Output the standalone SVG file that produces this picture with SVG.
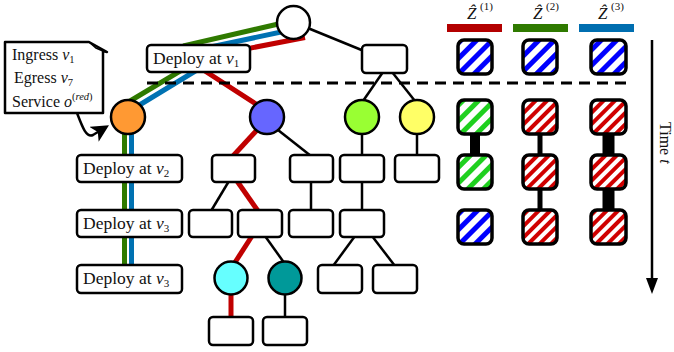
<svg xmlns="http://www.w3.org/2000/svg" width="674" height="352" viewBox="0 0 674 352">
<style>
text { font-family: "Liberation Serif", "DejaVu Serif", serif; fill: #111; }
.nd { fill: #fff; stroke: #000; stroke-width: 2.5; }
.ci { stroke: #000; stroke-width: 2.5; }
.e { stroke: #000; stroke-width: 2.5; fill: none; }
.r { stroke: #c00000; stroke-width: 5; fill: none; }
.g { stroke: #2f7a00; stroke-width: 5; fill: none; }
.b { stroke: #0072b2; stroke-width: 5; fill: none; }
.sq { stroke: #000; stroke-width: 3.5; }
.lbl { font-size: 17.5px; }
.it { font-style: italic; }
</style>
<defs>
<pattern id="hb" width="11" height="11" patternUnits="userSpaceOnUse" patternTransform="rotate(45)"><rect width="11" height="11" fill="#fff"/><rect width="5" height="11" fill="#0000ff"/></pattern>
<pattern id="hg" width="11" height="11" patternUnits="userSpaceOnUse" patternTransform="rotate(45)"><rect width="11" height="11" fill="#fff"/><rect width="5" height="11" fill="#1fd01f"/></pattern>
<pattern id="hr" width="8" height="8" patternUnits="userSpaceOnUse" patternTransform="rotate(45)"><rect width="8" height="8" fill="#fff"/><rect width="4" height="8" fill="#d00000"/></pattern>
<marker id="ah" viewBox="0 0 10 10" refX="8" refY="5" markerWidth="7" markerHeight="7" orient="auto" markerUnits="strokeWidth"><path d="M0,0 L10,5 L0,10 L2.5,5 Z" fill="#000"/></marker>
</defs>

<!-- connectors -->
<g id="connectors">
  <path class="g" d="M300,19 L185,45.5 L182,70 L120,107"/>
  <path class="b" d="M300,28 L192,51 L197,70 L128,112"/>
  <path class="r" d="M305,37.5 L235,51 L205,71 L262,108"/>
  <line class="g" x1="124.5" y1="117" x2="124.5" y2="267"/>
  <line class="b" x1="131.5" y1="117" x2="131.5" y2="267"/>
  <line class="e" x1="293" y1="22" x2="364" y2="51"/>
  <line class="e" x1="383" y1="72" x2="363" y2="101"/>
  <line class="e" x1="392" y1="72" x2="415" y2="101"/>
  <line class="e" x1="362" y1="133" x2="362" y2="156"/>
  <line class="e" x1="417" y1="133" x2="417" y2="156"/>
  <line class="e" x1="362" y1="181" x2="362" y2="211"/>
  <line class="e" x1="355" y1="236" x2="333" y2="266"/>
  <line class="e" x1="372" y1="236" x2="395" y2="266"/>
  <line class="r" x1="257" y1="130" x2="233" y2="156"/>
  <line class="e" x1="278" y1="130" x2="311" y2="156"/>
  <line class="e" x1="229" y1="181" x2="211" y2="211"/>
  <line class="r" x1="237" y1="181" x2="258" y2="211"/>
  <line class="e" x1="311" y1="181" x2="311" y2="211"/>
  <line class="r" x1="252" y1="236" x2="234" y2="264"/>
  <line class="e" x1="265" y1="236" x2="285" y2="264"/>
  <line class="r" x1="231" y1="292" x2="231" y2="318"/>
  <line class="e" x1="285" y1="292" x2="285" y2="318"/>
  <path class="e" d="M77,113 C82,126 86,138 93,135 L106,127" marker-end="url(#ah)"/>
  <line x1="147" y1="83" x2="630" y2="83" stroke="#000" stroke-width="3" stroke-dasharray="11 7"/>
  <!-- Z-hat timelines -->
  <rect x="470" y="133" width="10" height="23" fill="#000"/>
  <rect x="537.5" y="133" width="5" height="23" fill="#000"/>
  <rect x="537.5" y="188" width="5" height="23" fill="#000"/>
  <rect x="602.5" y="133" width="12" height="23" fill="#000"/>
  <rect x="602.5" y="188" width="12" height="23" fill="#000"/>
  <!-- time axis -->
  <line x1="652" y1="40" x2="652" y2="281" stroke="#000" stroke-width="2.5"/>
  <path d="M646,278 L652,294 L658,278 Z" fill="#000"/>
</g>

<!-- tree nodes -->
<g id="root"><circle class="nd" cx="293.5" cy="22.5" r="16.5"/></g>
<g id="deploy-v1"><rect class="nd" x="147" y="45" width="103" height="27" rx="4"/><text class="lbl" x="153" y="64">Deploy at <tspan class="it">v</tspan><tspan font-size="11" dy="3">1</tspan></text></g>
<g id="box-r0"><rect class="nd" x="362" y="45" width="45" height="28" rx="4"/></g>
<g id="orange"><circle class="ci" cx="128" cy="117" r="17" fill="#ff9933"/></g>
<g id="purple"><circle class="ci" cx="267" cy="117" r="17" fill="#6666ff"/></g>
<g id="lime"><circle class="ci" cx="362" cy="117" r="17" fill="#99ff33"/></g>
<g id="yellow"><circle class="ci" cx="417" cy="117" r="17" fill="#ffff66"/></g>
<g id="deploy-v2"><rect class="nd" x="77" y="155" width="105" height="27" rx="4"/><text class="lbl" x="83" y="174">Deploy at <tspan class="it">v</tspan><tspan font-size="11" dy="3">2</tspan></text></g>
<g id="deploy-v3a"><rect class="nd" x="77" y="210" width="105" height="27" rx="4"/><text class="lbl" x="83" y="229">Deploy at <tspan class="it">v</tspan><tspan font-size="11" dy="3">3</tspan></text></g>
<g id="deploy-v3b"><rect class="nd" x="77" y="265" width="105" height="28" rx="4"/><text class="lbl" x="83" y="284">Deploy at <tspan class="it">v</tspan><tspan font-size="11" dy="3">3</tspan></text></g>
<g id="b1"><rect class="nd" x="212" y="155" width="43" height="27" rx="4"/></g>
<g id="b2"><rect class="nd" x="290" y="155" width="43" height="27" rx="4"/></g>
<g id="b3"><rect class="nd" x="340" y="155" width="44" height="27" rx="4"/></g>
<g id="b4"><rect class="nd" x="395" y="155" width="44" height="27" rx="4"/></g>
<g id="b5"><rect class="nd" x="189" y="210" width="43" height="27" rx="4"/></g>
<g id="b6"><rect class="nd" x="238" y="210" width="44" height="27" rx="4"/></g>
<g id="b7"><rect class="nd" x="289" y="210" width="44" height="27" rx="4"/></g>
<g id="b8"><rect class="nd" x="340" y="210" width="44" height="27" rx="4"/></g>
<g id="cyan"><circle class="ci" cx="231" cy="278" r="16.5" fill="#66ffff"/></g>
<g id="teal"><circle class="ci" cx="285" cy="278" r="16.5" fill="#009999"/></g>
<g id="b9"><rect class="nd" x="318" y="265" width="44" height="28" rx="4"/></g>
<g id="b10"><rect class="nd" x="373" y="265" width="44" height="28" rx="4"/></g>
<g id="b11"><rect class="nd" x="209" y="317" width="44" height="28" rx="4"/></g>
<g id="b12"><rect class="nd" x="263" y="317" width="44" height="28" rx="4"/></g>

<!-- callout -->
<g id="callout">
  <path d="M5,42 L89,42 L107,52 L103,51 L103,113 L5,113 Z" fill="#fff" stroke="#000" stroke-width="2.5" stroke-linejoin="round"/>
  <path d="M89,42 L96,48 L103,51" fill="none" stroke="#000" stroke-width="1.5"/>
  <text x="12" y="60" font-size="16">Ingress <tspan class="it">v</tspan><tspan font-size="10.5" dy="3">1</tspan></text>
  <text x="14" y="83" font-size="16">Egress <tspan class="it">v</tspan><tspan font-size="10.5" dy="3">7</tspan></text>
  <text x="12" y="107" font-size="16">Service <tspan class="it">o</tspan><tspan font-size="10.5" dy="-7">(<tspan class="it">red</tspan>)</tspan></text>
</g>

<!-- legend -->
<g id="legend">
  <text x="467" y="19" font-size="17" class="it">Ẑ</text><text x="480" y="10" font-size="11">(1)</text>
  <text x="533" y="19" font-size="17" class="it">Ẑ</text><text x="546" y="10" font-size="11">(2)</text>
  <text x="598" y="19" font-size="17" class="it">Ẑ</text><text x="611" y="10" font-size="11">(3)</text>
  <rect x="447" y="24" width="55" height="8" fill="#b30000"/>
  <rect x="513" y="24" width="55" height="8" fill="#2f7a00"/>
  <rect x="579" y="24" width="55" height="8" fill="#006eb0"/>
</g>

<g id="z1">
  <rect class="sq" x="458" y="40" width="34" height="34" rx="6" fill="url(#hb)"/>
  <rect class="sq" x="458" y="100" width="34" height="34" rx="6" fill="url(#hg)"/>
  <rect class="sq" x="458" y="155" width="34" height="34" rx="6" fill="url(#hg)"/>
  <rect class="sq" x="458" y="210" width="34" height="34" rx="6" fill="url(#hb)"/>
</g>
<g id="z2">
  <rect class="sq" x="523" y="40" width="34" height="34" rx="6" fill="url(#hb)"/>
  <rect class="sq" x="523" y="100" width="34" height="34" rx="6" fill="url(#hr)"/>
  <rect class="sq" x="523" y="155" width="34" height="34" rx="6" fill="url(#hr)"/>
  <rect class="sq" x="523" y="210" width="34" height="34" rx="6" fill="url(#hr)"/>
</g>
<g id="z3">
  <rect class="sq" x="591" y="40" width="35" height="34" rx="6" fill="url(#hb)"/>
  <rect class="sq" x="591" y="100" width="35" height="34" rx="6" fill="url(#hr)"/>
  <rect class="sq" x="591" y="155" width="35" height="34" rx="6" fill="url(#hr)"/>
  <rect class="sq" x="591" y="210" width="35" height="34" rx="6" fill="url(#hr)"/>
</g>

<text transform="translate(660,122) rotate(90)" font-size="16">Time <tspan class="it">t</tspan></text>
</svg>
